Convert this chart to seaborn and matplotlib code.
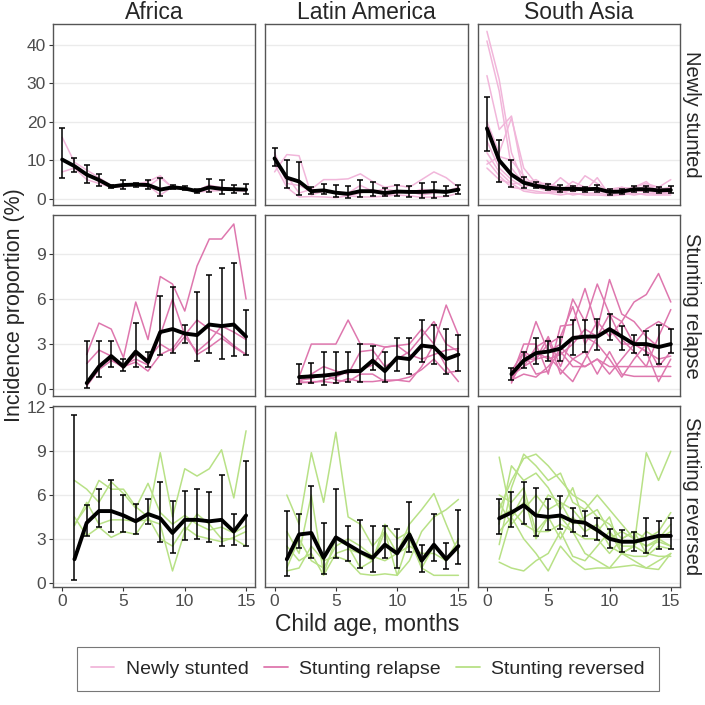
import numpy as np
import pandas as pd
import matplotlib
matplotlib.use('Agg')
import matplotlib.pyplot as plt
import seaborn as sns
from matplotlib.lines import Line2D

regions = ['Africa', 'Latin America', 'South Asia']
outcomes = ['Newly stunted', 'Stunting relapse', 'Stunting reversed']
colors = ['#f1b6da', '#de77ae', '#b8e186']

ages_ns = list(range(0, 16))
ages_rel = list(range(2, 16))
ages_rev = list(range(1, 16))

# ---- Newly stunted: pooled estimate + 95% CI ----
ns_af_mean = [10.2, 8.5, 6.3, 4.9, 3.2, 3.6, 3.7, 3.6, 2.4, 3.0, 2.7, 2.0, 3.0, 2.6, 2.5, 2.4]
ns_af_lo = [5.5, 7.0, 4.2, 3.3, 2.8, 2.5, 3.2, 2.6, 0.8, 2.5, 2.2, 1.5, 1.8, 1.3, 1.5, 1.2]
ns_af_hi = [18.3, 10.5, 8.8, 6.5, 3.6, 4.8, 4.2, 4.8, 5.5, 3.5, 3.3, 2.6, 5.2, 4.8, 3.6, 3.8]
ns_la_mean = [10.5, 5.5, 4.5, 2.0, 2.2, 1.6, 1.3, 2.0, 2.0, 1.5, 1.9, 1.8, 1.8, 2.0, 1.8, 2.4]
ns_la_lo = [8.5, 2.8, 1.0, 1.2, 1.2, 0.5, 0.3, 0.5, 0.8, 0.7, 0.8, 0.5, 0.3, 0.3, 0.8, 1.3]
ns_la_hi = [13.3, 10.0, 9.5, 3.2, 3.8, 3.6, 3.3, 4.8, 4.5, 2.8, 3.5, 3.3, 4.0, 4.5, 3.3, 3.6]
ns_sa_mean = [18.3, 10.0, 6.3, 4.2, 3.4, 2.9, 2.6, 2.6, 2.5, 2.6, 1.8, 1.9, 2.5, 2.5, 2.2, 2.3]
ns_sa_lo = [12.5, 4.3, 3.0, 2.8, 2.7, 2.2, 1.8, 2.0, 1.9, 1.7, 1.0, 1.3, 1.7, 1.7, 1.5, 1.5]
ns_sa_hi = [26.5, 15.3, 10.0, 5.8, 4.5, 3.8, 3.5, 3.4, 3.2, 3.6, 2.5, 2.6, 3.3, 3.3, 3.0, 3.3]

# cohort-specific curves
ns_af_cohorts = [
    [16.0, 9.5, 7.5, 5.5, 3.5, 3.8, 3.5, 3.2, 5.5, 3.0, 2.5, 2.2, 3.5, 3.0, 2.6, 2.2],
    [7.0, 8.0, 5.0, 4.0, 3.0, 3.2, 3.7, 4.5, 6.0, 2.8, 2.8, 1.8, 2.0, 2.2, 2.4, 2.6],
    [10.0, 8.5, 6.5, 4.5, 3.0, 3.4, 4.0, 3.5, 1.0, 3.1, 2.5, 2.1, 3.6, 2.5, 2.2, 2.0],
]
ns_la_cohorts = [
    [7.0, 11.5, 11.2, 1.0, 2.0, 1.5, 0.8, 1.5, 2.5, 1.0, 1.5, 2.0, 1.0, 1.5, 2.0, 3.0],
    [10.5, 6.0, 1.5, 2.5, 5.0, 5.0, 5.2, 6.5, 4.5, 3.0, 3.5, 3.0, 5.0, 7.0, 5.5, 3.0],
    [9.0, 3.0, 0.5, 0.6, 0.5, 0.3, 0.8, 0.5, 0.5, 0.7, 1.0, 0.8, 0.4, 0.5, 0.6, 1.5],
    [12.0, 4.0, 3.5, 2.0, 2.3, 1.8, 1.5, 3.5, 2.0, 2.5, 2.0, 1.5, 2.5, 2.0, 1.5, 2.5],
]
ns_sa_cohorts = [
    [43.5, 31.0, 12.0, 4.0, 3.0, 2.5, 3.0, 2.0, 2.5, 3.0, 1.5, 1.5, 2.5, 2.0, 1.5, 2.0],
    [41.0, 28.0, 8.0, 4.0, 5.0, 3.0, 2.0, 4.5, 3.0, 2.0, 2.0, 3.0, 2.5, 3.0, 2.5, 3.0],
    [32.0, 18.0, 21.5, 5.0, 3.0, 2.0, 1.5, 2.5, 2.0, 3.0, 1.0, 1.0, 2.0, 2.5, 2.0, 1.5],
    [20.0, 12.0, 21.0, 8.0, 4.0, 4.0, 3.0, 2.0, 6.0, 4.0, 1.5, 2.0, 3.0, 4.0, 3.0, 2.0],
    [15.0, 8.0, 5.0, 3.0, 4.0, 2.5, 5.5, 3.0, 3.0, 2.5, 2.5, 3.0, 2.0, 3.5, 3.0, 5.0],
    [12.0, 7.0, 4.0, 4.0, 4.5, 2.0, 2.5, 3.5, 2.0, 5.5, 1.0, 2.5, 3.0, 4.5, 1.5, 2.5],
    [10.0, 6.0, 3.0, 2.5, 2.0, 1.5, 1.0, 1.5, 1.0, 1.0, 0.8, 1.0, 1.5, 1.0, 1.0, 1.0],
    [9.0, 11.0, 10.0, 6.0, 3.0, 3.5, 2.5, 2.0, 2.5, 2.0, 1.5, 2.5, 2.0, 2.0, 2.5, 2.0],
    [8.0, 5.0, 4.0, 2.0, 1.5, 1.5, 2.0, 1.0, 1.5, 1.5, 1.0, 1.5, 1.0, 1.5, 1.2, 1.5],
]

# ---- Stunting relapse ----
rel_af_mean = [0.4, 1.5, 2.2, 1.5, 2.5, 1.8, 3.8, 4.0, 3.7, 3.6, 4.3, 4.2, 4.3, 3.5]
rel_af_lo = [0.1, 0.8, 1.5, 1.2, 1.5, 1.5, 2.3, 2.4, 3.1, 1.9, 2.4, 2.0, 2.2, 2.3]
rel_af_hi = [3.2, 3.2, 3.2, 2.0, 4.4, 2.5, 6.2, 6.8, 4.3, 6.5, 7.6, 8.1, 8.4, 5.3]
rel_la_mean = [0.8, 0.85, 0.9, 1.0, 1.2, 1.2, 1.9, 1.2, 2.1, 2.0, 2.9, 2.8, 2.0, 2.3]
rel_la_lo = [0.35, 0.4, 0.3, 0.4, 0.5, 0.5, 1.3, 0.5, 1.2, 1.0, 1.8, 1.7, 1.0, 1.2]
rel_la_hi = [1.65, 1.75, 2.5, 2.5, 2.5, 3.0, 2.9, 2.5, 3.4, 3.4, 4.6, 4.3, 4.0, 3.6]
rel_sa_mean = [1.0, 1.9, 2.4, 2.5, 2.7, 3.4, 3.5, 3.5, 4.0, 3.5, 3.0, 3.0, 2.8, 3.0]
rel_sa_lo = [0.6, 1.4, 1.7, 1.9, 1.9, 2.3, 2.5, 2.6, 3.3, 2.6, 2.4, 2.3, 1.7, 2.4]
rel_sa_hi = [1.4, 2.5, 3.4, 3.2, 3.5, 4.6, 4.6, 4.7, 5.0, 4.2, 3.6, 3.9, 4.3, 4.0]

rel_af_cohorts = [
    [2.3, 4.4, 4.0, 2.1, 5.8, 3.3, 7.5, 7.0, 5.2, 8.2, 10.0, 10.0, 11.0, 6.0],
    [1.7, 2.6, 2.2, 1.6, 2.0, 1.6, 3.6, 6.0, 3.6, 4.6, 4.0, 3.6, 2.9, 2.3],
    [0.3, 1.6, 2.0, 1.4, 2.3, 2.0, 3.0, 2.5, 3.5, 2.5, 3.2, 4.2, 3.8, 3.3],
    [0.2, 1.3, 1.9, 1.5, 1.8, 1.2, 2.3, 2.7, 3.8, 2.3, 2.8, 3.4, 2.8, 2.3],
]
rel_la_cohorts = [
    [0.8, 3.0, 3.0, 3.0, 4.6, 3.0, 3.0, 2.8, 2.9, 3.0, 4.0, 3.0, 5.6, 3.6],
    [0.5, 1.0, 1.5, 1.2, 1.0, 2.5, 2.6, 1.5, 2.0, 2.5, 3.5, 4.5, 3.0, 2.5],
    [0.4, 0.5, 0.5, 0.4, 0.7, 0.5, 0.5, 0.6, 0.6, 0.8, 1.3, 2.0, 1.1, 1.2],
    [0.6, 0.7, 1.0, 0.6, 0.5, 1.0, 1.0, 0.5, 0.6, 0.5, 1.5, 3.0, 1.5, 0.5],
    [0.5, 0.4, 0.6, 0.8, 1.2, 1.3, 1.6, 2.8, 2.9, 2.3, 2.0, 2.3, 2.6, 2.7],
]
rel_sa_cohorts = [
    [0.5, 2.0, 4.5, 2.5, 3.0, 6.0, 4.5, 7.0, 5.0, 3.3, 2.5, 1.5, 3.5, 5.3],
    [0.8, 3.0, 3.0, 1.0, 4.2, 4.3, 6.7, 4.0, 7.3, 5.0, 4.5, 3.5, 2.8, 3.0],
    [1.0, 2.0, 2.0, 3.0, 3.5, 5.5, 3.0, 4.5, 3.5, 4.5, 5.8, 6.3, 7.7, 5.8],
    [0.4, 2.5, 1.0, 1.2, 2.8, 2.0, 2.5, 1.0, 2.5, 1.0, 0.85, 0.85, 0.85, 0.85],
    [1.0, 1.5, 2.0, 3.5, 1.5, 3.5, 3.5, 3.0, 2.0, 0.8, 2.0, 3.0, 1.5, 2.5],
    [0.6, 1.0, 0.8, 1.5, 2.5, 1.5, 1.5, 2.0, 1.0, 2.0, 3.0, 4.0, 4.5, 4.0],
    [1.2, 2.5, 2.0, 2.2, 1.3, 0.5, 2.0, 3.5, 5.0, 4.5, 3.0, 2.5, 2.0, 2.2],
    [0.7, 2.0, 2.5, 2.0, 2.3, 3.0, 4.0, 3.5, 4.0, 3.0, 3.0, 2.5, 0.5, 2.0],
    [0.9, 1.5, 2.8, 3.3, 1.0, 2.0, 1.5, 2.0, 1.5, 1.5, 1.5, 1.5, 1.5, 1.5],
]

# ---- Stunting reversed ----
rev_af_mean = [1.6, 4.1, 4.9, 4.9, 4.6, 4.2, 4.7, 4.4, 3.4, 4.3, 4.3, 4.2, 4.3, 3.5, 4.6]
rev_af_lo = [0.15, 3.2, 3.8, 3.5, 3.5, 3.3, 4.0, 2.8, 2.0, 2.9, 3.0, 2.8, 2.5, 2.6, 2.5]
rev_af_hi = [11.5, 5.3, 6.4, 7.0, 6.0, 5.4, 5.7, 6.9, 5.6, 6.3, 6.4, 6.2, 7.4, 4.7, 8.3]
rev_la_mean = [1.6, 3.3, 3.4, 1.7, 3.1, 2.6, 2.1, 1.7, 2.6, 2.0, 3.3, 1.5, 2.6, 1.6, 2.5]
rev_la_lo = [0.45, 2.4, 1.7, 0.6, 1.7, 1.5, 1.0, 0.7, 1.7, 1.0, 2.1, 0.7, 1.5, 0.9, 1.3]
rev_la_hi = [4.9, 4.7, 6.6, 4.1, 6.4, 3.9, 4.3, 3.9, 3.9, 3.7, 5.5, 2.6, 4.7, 2.7, 5.0]
rev_sa_mean = [4.4, 4.8, 5.3, 4.6, 4.5, 4.6, 4.2, 4.1, 3.6, 3.0, 2.8, 2.8, 3.0, 3.2, 3.2]
rev_sa_lo = [3.3, 3.8, 4.0, 3.2, 3.6, 3.7, 3.5, 3.2, 2.9, 2.4, 2.1, 2.2, 2.0, 2.3, 2.3]
rev_sa_hi = [5.7, 6.2, 6.9, 6.5, 5.7, 5.9, 5.1, 4.9, 4.4, 3.7, 3.6, 3.5, 4.4, 4.2, 4.4]

rev_af_cohorts = [
    [7.0, 6.4, 5.5, 6.9, 6.1, 5.1, 6.8, 4.8, 4.0, 4.6, 4.0, 3.6, 3.8, 3.4, 3.9],
    [4.0, 5.2, 7.0, 6.4, 6.4, 5.2, 4.5, 8.9, 4.5, 7.8, 7.3, 7.8, 9.1, 5.8, 10.4],
    [3.9, 5.5, 4.0, 4.3, 4.3, 4.2, 4.3, 4.0, 0.8, 3.5, 4.7, 4.0, 3.0, 3.0, 2.5],
    [4.5, 3.2, 3.8, 3.1, 3.5, 3.3, 4.5, 3.0, 2.5, 3.8, 3.2, 3.0, 2.8, 3.1, 3.5],
]
rev_la_cohorts = [
    [6.0, 4.0, 8.9, 5.5, 10.3, 4.5, 4.0, 2.5, 3.5, 2.0, 4.0, 5.0, 6.1, 4.0, 2.0],
    [3.5, 2.0, 6.0, 0.6, 3.0, 2.5, 1.0, 1.5, 3.5, 0.5, 1.5, 3.5, 4.5, 5.0, 5.7],
    [0.8, 1.0, 2.5, 1.5, 1.8, 1.5, 0.6, 0.5, 0.6, 0.5, 3.0, 1.0, 0.5, 0.5, 0.5],
    [2.5, 1.5, 2.0, 0.5, 2.0, 2.3, 2.0, 1.5, 4.0, 3.0, 3.5, 1.0, 2.5, 1.5, 2.5],
    [1.0, 3.0, 1.5, 1.0, 2.5, 3.0, 2.5, 1.8, 1.5, 2.0, 2.5, 2.0, 2.0, 1.5, 3.0],
]
rev_sa_cohorts = [
    [8.6, 4.5, 5.5, 4.5, 6.0, 5.5, 4.0, 4.5, 5.0, 3.5, 2.5, 2.5, 8.9, 7.0, 9.0],
    [5.0, 7.0, 8.5, 8.8, 8.0, 7.0, 6.0, 5.5, 4.5, 4.0, 3.0, 3.5, 3.0, 3.5, 4.8],
    [2.6, 6.5, 8.8, 8.0, 7.0, 7.5, 5.5, 5.0, 6.0, 5.0, 4.0, 3.0, 2.5, 3.0, 2.5],
    [4.0, 8.0, 7.0, 7.5, 6.5, 5.0, 6.5, 4.0, 3.5, 4.5, 2.0, 2.5, 3.5, 3.0, 3.5],
    [1.4, 1.0, 0.8, 1.5, 2.0, 3.5, 1.8, 1.5, 2.5, 3.5, 2.0, 1.5, 1.0, 0.9, 2.0],
    [4.5, 5.0, 4.0, 3.5, 3.5, 4.0, 3.5, 2.0, 1.5, 1.0, 2.0, 2.5, 2.0, 1.8, 1.8],
    [1.6, 4.5, 3.0, 2.0, 0.8, 2.5, 1.5, 0.9, 1.0, 1.0, 1.1, 1.2, 1.0, 1.5, 2.0],
    [6.0, 5.5, 6.5, 3.5, 4.5, 3.0, 4.5, 3.5, 4.0, 2.5, 2.0, 1.8, 1.8, 2.5, 2.3],
    [5.5, 4.0, 5.0, 6.0, 5.0, 5.5, 5.0, 4.0, 3.5, 3.0, 3.5, 3.0, 2.5, 2.8, 2.5],
    [3.5, 4.5, 6.0, 3.0, 4.5, 4.5, 3.5, 3.0, 3.0, 2.0, 3.0, 3.5, 2.0, 3.0, 4.0],
]

ages = [ages_ns, ages_rel, ages_rev]
pooled = [
    [(ns_af_mean, ns_af_lo, ns_af_hi), (ns_la_mean, ns_la_lo, ns_la_hi), (ns_sa_mean, ns_sa_lo, ns_sa_hi)],
    [(rel_af_mean, rel_af_lo, rel_af_hi), (rel_la_mean, rel_la_lo, rel_la_hi), (rel_sa_mean, rel_sa_lo, rel_sa_hi)],
    [(rev_af_mean, rev_af_lo, rev_af_hi), (rev_la_mean, rev_la_lo, rev_la_hi), (rev_sa_mean, rev_sa_lo, rev_sa_hi)],
]
cohorts = [
    [ns_af_cohorts, ns_la_cohorts, ns_sa_cohorts],
    [rel_af_cohorts, rel_la_cohorts, rel_sa_cohorts],
    [rev_af_cohorts, rev_la_cohorts, rev_sa_cohorts],
]
ylims = [(-1.6, 45.4), (-0.46, 11.6), (-0.3, 12.1)]
yticks = [[0, 10, 20, 30, 40], [0, 3, 6, 9], [0, 3, 6, 9, 12]]

sns.set_style('white')
plt.rcParams['font.family'] = ['Liberation Sans', 'DejaVu Sans']

fig, axes = plt.subplots(3, 3, figsize=(7.05, 7.05), dpi=100, sharex=True)
fig.subplots_adjust(left=53/705, right=680/705, top=1-24/705, bottom=1-587/705,
                    wspace=0.05, hspace=0.055)

for i in range(3):
    for j in range(3):
        ax = axes[i, j]
        rows = []
        for k, c in enumerate(cohorts[i][j]):
            for a, v in zip(ages[i], c):
                rows.append({'age': a, 'pct': v, 'cohort': k})
        cdf = pd.DataFrame(rows)
        sns.lineplot(data=cdf, x='age', y='pct', units='cohort', estimator=None,
                     color=colors[i], lw=1.1, ax=ax)
        m, lo, hi = [np.array(v) for v in pooled[i][j]]
        mdf = pd.DataFrame({'age': ages[i], 'mean': m})
        ax.errorbar(ages[i], m, yerr=[m - lo, hi - m], fmt='none', ecolor='black',
                    elinewidth=1.1, capsize=2, capthick=1.1, zorder=4)
        sns.lineplot(data=mdf, x='age', y='mean', color='black', lw=2.8, ax=ax, zorder=5)

        ax.set_xlim(-0.75, 15.75)
        ax.set_ylim(*ylims[i])
        ax.set_yticks(yticks[i])
        ax.set_xticks([0, 5, 10, 15])
        ax.yaxis.grid(True, color='#ebebeb', lw=1.0)
        ax.xaxis.grid(False)
        ax.set_axisbelow(True)
        ax.set_xlabel('')
        ax.set_ylabel('')
        for s in ax.spines.values():
            s.set_color('#555555')
            s.set_linewidth(1.0)
        ax.tick_params(axis='both', length=3, width=0.8, color='#333333',
                       labelcolor='#4d4d4d', labelsize=12.5, pad=2)
        if j > 0:
            ax.tick_params(axis='y', left=False, labelleft=False)
        else:
            ax.tick_params(axis='y', left=True)
        if i < 2:
            ax.tick_params(axis='x', bottom=False, labelbottom=False)
        else:
            ax.tick_params(axis='x', bottom=True)
        if i == 0:
            ax.set_title(regions[j], fontsize=16.5, pad=2)
        if j == 2:
            ax.text(1.01, 0.5, outcomes[i], transform=ax.transAxes, rotation=-90,
                    va='center', ha='left', fontsize=14.5)

fig.text(15/705, 1-305/705, 'Incidence proportion (%)', rotation=90,
         ha='center', va='center', fontsize=15.5)
fig.text(367/705, 1-625/705, 'Child age, months', ha='center', va='center', fontsize=16.5)

handles = [Line2D([0], [0], color=c, lw=1.3) for c in colors]
leg = fig.legend(handles, outcomes, loc='center', ncol=3,
                 bbox_to_anchor=(368/705, 1-669/705), frameon=True, fancybox=False,
                 fontsize=14, handlelength=1.2, columnspacing=0.8, handletextpad=0.6,
                 borderpad=0.7)
leg.get_frame().set_edgecolor('#555555')
leg.get_frame().set_linewidth(0.8)

plt.savefig('out.png', dpi=100)
